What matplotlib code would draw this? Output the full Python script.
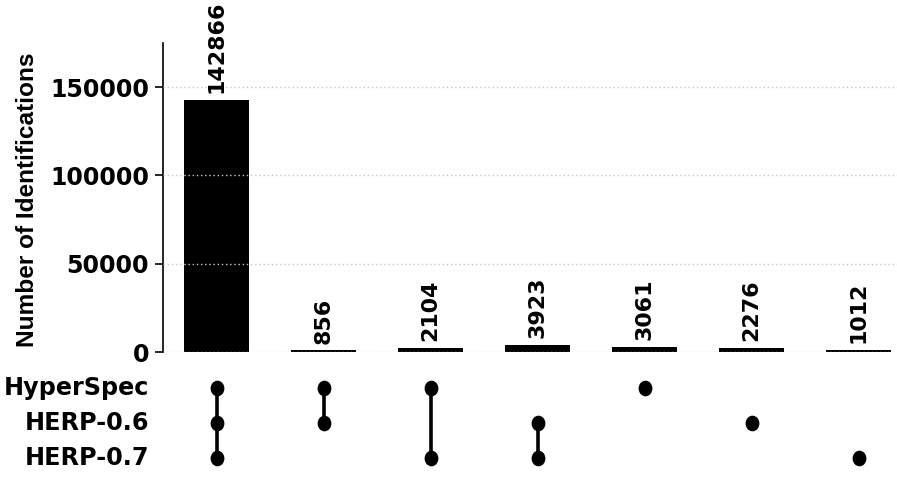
import numpy as np
import matplotlib.pyplot as plt
from matplotlib.path import Path
from matplotlib.markers import MarkerStyle

# intersection sizes, left to right
counts = [142866, 856, 2104, 3923, 3061, 2276, 1012]
sets = ['HyperSpec', 'HERP-0.6', 'HERP-0.7']
# membership of each intersection (1 = set is part of it)
member_hyperspec = [1, 1, 1, 0, 1, 0, 0]
member_herp06 = [1, 1, 0, 1, 0, 1, 0]
member_herp07 = [1, 0, 1, 1, 0, 0, 1]
yticks = [0, 50000, 100000, 150000]

W, H = 897, 479
fig = plt.figure(figsize=(W / 100, H / 100), dpi=100)

x = np.arange(len(counts))
x0, x1 = 163, 897
xmax = (x1 - x0) / 107 - 0.5

# bars
ax = fig.add_axes([x0 / W, (H - 352) / H, (x1 - x0) / W, (352 - 43) / H])
ax.bar(x, counts, width=0.6, color='black', zorder=1)
ax.set_xlim(-0.5, xmax)
ax.set_ylim(0, 175000)
ax.set_yticks(yticks)
ax.set_yticklabels([str(v) for v in yticks], fontsize=17, fontweight='bold')
ax.tick_params(axis='y', length=6, width=1.2, pad=4)
ax.set_xticks([])
for s in ['top', 'right', 'bottom']:
    ax.spines[s].set_visible(False)
ax.spines['left'].set_linewidth(1.2)
ax.grid(axis='y', linestyle=(0, (1, 2)), color='#c8c8c8', linewidth=1.0, zorder=3)
ax.set_axisbelow(False)
ax.set_ylabel('Number of Identifications', fontsize=17.6, fontweight='bold',
              family='Liberation Sans')
ax.yaxis.set_label_coords((39 - x0) / (x1 - x0), 0.4935)
for xi, c in zip(x, counts):
    ax.annotate(str(c), (xi, c), xytext=(0, 5), textcoords='offset points',
                rotation=90, ha='center', va='bottom', fontsize=15.9, fontweight='bold')

# matrix
mx = fig.add_axes([x0 / W, (H - 475.5) / H, (x1 - x0) / W, 105 / H])
mx.set_xlim(-0.5, xmax)
mx.set_ylim(2.5, -0.5)
mx.axis('off')

circ = Path.unit_circle()
ell = Path(circ.vertices * np.array([0.87, 1.0]), circ.codes)
marker = MarkerStyle(ell)

members = [member_hyperspec, member_herp06, member_herp07]
for j in range(len(counts)):
    rows = [i for i in range(len(sets)) if members[i][j]]
    if len(rows) > 1:
        mx.plot([j, j], [min(rows), max(rows)], color='black', linewidth=2.6, zorder=1)
    mx.scatter([j] * len(rows), rows, s=105, marker=marker, color='black', zorder=2)

for i, name in enumerate(sets):
    fig.text(149 / W, 1 - (388 + 35 * i) / H, name, ha='right', va='center',
             fontsize=17.2, fontweight='bold')

fig.savefig('out.png', dpi=100)
